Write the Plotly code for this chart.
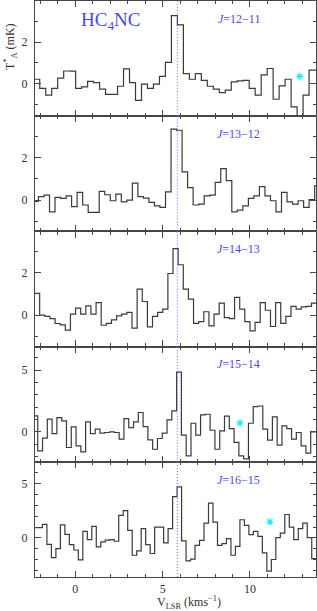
import plotly.graph_objects as go
from plotly.subplots import make_subplots

# ---------------- data ----------------
LABELS = ["<i>J</i>=12\u221211", "<i>J</i>=13\u221212", "<i>J</i>=14\u221213",
          "<i>J</i>=15\u221214", "<i>J</i>=16\u221215"]
MOLECULE = "HC<sub>4</sub>NC"

# first channel centre (km/s) and channel width (km/s) of each spectrum
V0 = [-2.21, -2.27, -2.19, -2.29, -2.27]
DV = [0.3427, 0.3163, 0.2937, 0.2742, 0.2570]

T1 = [0.21, -0.23, -0.56, -0.23, 0.26, 0.61, 0.60, -0.23, -0.16, 0.11,
      0.05, -0.27, -0.52, -0.52, -0.13, 0.71, 0.05, -0.81, -0.03, -0.23,
      -0.03, 0.35, 1.03, 3.29, 2.84, 0.48, 0.21, 0.48, 0.16, -0.13,
      -0.27, -0.44, -0.32, 0.08, 0.13, 0.16, -0.23, -0.56, 0.42, 0.73,
      -0.76, -0.11, 0.21, -1.13, -1.80, -0.56, 0.65, 0.65]
T2 = [-0.06, 0.16, 0.23, -0.55, 0.13, 0.08, 0.20, -0.31, 0.36, -0.23,
      -0.58, -0.58, 0.41, 0.25, -0.03, 0.28, -0.08, 0.00, 0.80, 0.16,
      0.09, -0.11, -0.27, -0.34, 0.39, 3.33, 3.28, 1.33, 0.59, -0.23,
      -0.19, 0.20, 0.23, 0.83, 1.48, 0.91, -0.55, -0.47, -0.27, 0.08,
      0.20, 0.63, 0.20, -0.03, -0.55, 0.36, -0.08, -0.19, -0.03, -0.34,
      0.02, 0.67]
T3 = [1.02, 0.00, -0.06, -0.16, -0.39, -0.45, -0.70, 0.05, 0.33, 0.05,
      0.44, 0.05, 0.59, -0.47, -0.38, -0.22, -0.03, 0.05, 0.13, -0.61,
      1.22, 0.64, -0.55, -0.06, 0.13, 0.28, 1.95, 3.11, 2.36, 1.22,
      0.75, -0.38, -0.30, 0.16, -0.50, 0.05, 0.56, -0.11, -0.16, 0.83,
      0.28, -0.30, -0.73, -0.34, 0.59, 0.23, -0.53, 0.59, -0.38, -0.06,
      0.41, 0.28, 0.39, 0.41, 0.56]
T4 = [1.30, -1.54, -0.51, 1.03, -0.14, 1.16, 0.89, -1.27, 0.41, -1.14,
      -1.62, 0.81, -0.14, 0.22, -0.11, -0.05, 0.00, -0.05, -0.59, 1.08,
      0.35, 0.81, 1.57, 0.43, -0.65, -1.41, -0.54, -0.11, 0.97, 1.70,
      4.85, -0.27, -1.95, 0.70, -0.27, 1.38, 1.43, 0.13, -1.41, 0.08,
      1.27, 0.27, -0.86, -1.95, -2.20, 0.70, 2.05, 2.10, 0.22, -0.67,
      1.22, -1.08, 0.49, 0.27, -0.59, -0.05, -1.14, -1.73, 0.00, 0.00]
T5 = [0.95, 0.95, 1.25, -0.58, -1.80, -0.97, 1.20, 0.33, -0.60, -1.10,
      -2.00, 0.60, -0.15, 1.06, -0.82, -0.36, -0.20, -0.15, -0.30, 2.06,
      2.50, 0.70, -1.58, -1.18, 0.85, -0.60, -1.42, 1.00, 1.00, -0.45,
      0.85, 3.79, 4.68, -0.27, -2.10, -1.94, -0.67, -0.21, 1.36, 3.18,
      1.45, -0.67, -0.52, -0.06, -1.58, -0.76, 1.67, 1.15, 0.30, 0.60,
      0.15, -1.36, -3.03, -1.97, 0.03, 0.45, 2.15, 1.00, -0.15, 0.85,
      1.36, 0.03, -1.88]
SPECTRA = [T1, T2, T3, T4, T5]

# cyan asterisks (other features)
STAR_V = [12.85, None, None, 9.43, 11.14]
STAR_T = [0.35, None, None, 0.73, 1.48]

V_LSR = 5.84
X_TICKS = [0, 5, 10]
Y_TICKS = [[0, 2], [0, 2], [0, 2], [0, 5], [0, 5]]

# ---------------- layout constants ----------------
X_RANGE = [-2.31, 13.78]
Y_RANGES = [[-1.58, 4.0], [-1.47, 3.94], [-1.47, 3.92], [-2.43, 6.92], [-3.57, 6.97]]

W, H = 317, 611
ML, MR, MT, MB = 35, 1, 1, 34
FONT = "Liberation Serif"
FRAME = "#474747"
LINE = "#3a3a3a"
BLUE = "#4848f0"

fig = make_subplots(rows=5, cols=1, shared_xaxes=True, vertical_spacing=0)

for i, T in enumerate(SPECTRA):
    n = len(T)
    edges = [V0[i] - DV[i] / 2 + k * DV[i] for k in range(n + 1)]
    yy = list(T) + [T[-1]]
    fig.add_trace(go.Scatter(x=edges, y=yy, mode="lines", line_shape="hv",
                             line=dict(color=LINE, width=1.2),
                             hoverinfo="skip", showlegend=False),
                  row=i + 1, col=1)
    if STAR_V[i] is not None:
        fig.add_trace(go.Scatter(x=[STAR_V[i]], y=[STAR_T[i]], mode="markers",
                                 marker=dict(symbol="asterisk-open", size=6,
                                             color="#19f0ff",
                                             line=dict(color="#19f0ff", width=1.2)),
                                 hoverinfo="skip", showlegend=False),
                      row=i + 1, col=1)
    fig.add_annotation(x=9.37, y=0.845, xref=f"x{i + 1 if i else ''}",
                       yref=f"y{i + 1 if i else ''} domain",
                       text=LABELS[i], showarrow=False,
                       font=dict(family=FONT, size=12, color=BLUE),
                       xanchor="center", yanchor="middle")

    fig.update_yaxes(row=i + 1, col=1, range=Y_RANGES[i], tickvals=Y_TICKS[i],
                     ticks="inside", ticklen=6, tickwidth=1, tickcolor=FRAME,
                     showline=True, linecolor=FRAME, linewidth=1.3,
                     mirror="allticks", showgrid=False, zeroline=False,
                     ticklabelstandoff=4, automargin=False,
                     minor=dict(ticks="inside", ticklen=3, tickcolor=FRAME,
                                tickmode="linear", tick0=0, dtick=1, showgrid=False),
                     tickfont=dict(family=FONT, size=12, color="#333333"))
    fig.update_xaxes(row=i + 1, col=1, range=X_RANGE, tickvals=X_TICKS,
                     ticks="inside", ticklen=6, tickwidth=1, tickcolor=FRAME,
                     showline=True, linecolor=FRAME, linewidth=1.3,
                     mirror="allticks", showgrid=False, zeroline=False,
                     automargin=False,
                     minor=dict(ticks="inside", ticklen=3, tickcolor=FRAME,
                                tickmode="linear", tick0=0, dtick=1, showgrid=False),
                     tickfont=dict(family=FONT, size=12, color="#333333"))

fig.add_vline(x=V_LSR, line=dict(color="#6a6aff", width=1, dash="1px,2px"),
              row="all", col=1)

# molecule name
fig.add_annotation(x=1.99, y=0.83, xref="x", yref="y domain", text=MOLECULE,
                   showarrow=False, font=dict(family=FONT, size=19, color=BLUE),
                   xanchor="center", yanchor="middle")

# axis titles
fig.add_annotation(x=-25 / (W - ML - MR), y=(H - MB - 47) / (H - MT - MB),
                   xref="paper", yref="paper",
                   text="T<sup>*</sup><sub>A</sub> (mK)", textangle=-90,
                   showarrow=False, font=dict(family=FONT, size=12, color="#333333"),
                   xanchor="center", yanchor="middle")
fig.add_annotation(x=(189 - ML) / (W - ML - MR), y=-(602 - (H - MB)) / (H - MT - MB),
                   xref="paper", yref="paper",
                   text="V<sub>LSR</sub> (kms<sup>\u22121</sup>)",
                   showarrow=False, font=dict(family=FONT, size=12, color="#333333"),
                   xanchor="center", yanchor="middle")

fig.update_layout(width=W, height=H, margin=dict(l=ML, r=MR, t=MT, b=MB),
                  paper_bgcolor="white", plot_bgcolor="white",
                  showlegend=False)

fig.write_html("out.html", config={"displayModeBar": False},
               post_script="document.body.style.margin='0px';"
                           "document.body.style.overflow='hidden';")
